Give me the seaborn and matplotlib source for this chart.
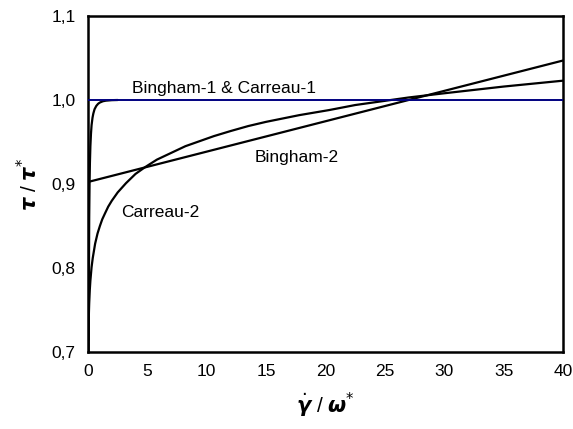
import matplotlib
matplotlib.use("Agg")
import matplotlib.pyplot as plt
import seaborn as sns
import pandas as pd
from matplotlib.ticker import FuncFormatter

# Normalised shear rate and stress for the four rheological fits
bingham1_x = [0.0, 40.0]
bingham1_y = [1.0, 1.0]

carreau1_x = [0.06, 0.08, 0.10, 0.13, 0.16, 0.20, 0.25, 0.30, 0.38, 0.45,
              0.55, 0.70, 0.85, 1.0, 1.25, 1.5, 2.0, 2.5]
carreau1_y = [0.70, 0.80, 0.86, 0.90, 0.925, 0.945, 0.960, 0.970, 0.979,
              0.984, 0.989, 0.993, 0.9955, 0.997, 0.9985, 0.9992, 0.9998, 1.0]

bingham2_x = [0.0, 40.0]
bingham2_y = [0.9024, 1.047]

carreau2_x = [0.03, 0.05, 0.08, 0.1, 0.15, 0.2, 0.3, 0.4, 0.6, 0.8, 1.0, 1.2,
              1.43, 1.7, 2.0, 2.5, 3.2, 4.0, 4.8, 5.8, 7.0, 8.2, 9.4, 10.6,
              12.0, 13.5, 15.0, 17.8, 20.3, 22.5, 25.0, 27.0, 30.0, 35.0, 40.0]
carreau2_y = [0.714, 0.732, 0.749, 0.758, 0.774, 0.785, 0.801, 0.812, 0.829,
              0.841, 0.850, 0.858, 0.865, 0.873, 0.880, 0.890, 0.901, 0.912,
              0.920, 0.929, 0.937, 0.945, 0.951, 0.957, 0.963, 0.969, 0.974,
              0.982, 0.988, 0.994, 0.999, 1.003, 1.008, 1.016, 1.023]

x_ticks = [0, 5, 10, 15, 20, 25, 30, 35, 40]
y_ticks = [0.7, 0.8, 0.9, 1.0, 1.1]

sns.set_style("white")
plt.rcParams["font.family"] = ["Liberation Sans", "DejaVu Sans"]
plt.rcParams["mathtext.fontset"] = "dejavusans"
plt.rcParams["text.color"] = "black"
plt.rcParams["axes.labelcolor"] = "black"

fig = plt.figure(figsize=(5.73, 4.29), dpi=100)
ax = fig.add_axes([0.1536, 0.1795, 0.8289, 0.7832])

series = [
    (carreau1_x, carreau1_y, "black", 1.6, 2),
    (bingham2_x, bingham2_y, "black", 1.6, 2),
    (carreau2_x, carreau2_y, "black", 1.6, 2),
    (bingham1_x, bingham1_y, "#000080", 1.4, 3),
]
for xs, ys, col, lw, z in series:
    df = pd.DataFrame({"x": xs, "y": ys})
    sns.lineplot(data=df, x="x", y="y", ax=ax, color=col, linewidth=lw,
                 sort=False, estimator=None, zorder=z)

ax.set_xlim(0, 40)
ax.set_ylim(0.7, 1.1)
ax.set_xticks(x_ticks)
ax.set_yticks(y_ticks)
ax.yaxis.set_major_formatter(FuncFormatter(lambda v, p: f"{v:.1f}".replace(".", ",")))
ax.xaxis.set_major_formatter(FuncFormatter(lambda v, p: f"{v:.0f}"))
ax.tick_params(axis="both", direction="inout", length=8, width=1.0,
               labelsize=12.5, colors="black", pad=5)

for sp in ax.spines.values():
    sp.set_visible(True)
    sp.set_color("black")
    sp.set_linewidth(1.8)

ax.set_xlabel(r"$\dot{\boldsymbol{\gamma}}$ / $\boldsymbol{\omega}^{*}$",
              fontsize=15, labelpad=8)
ax.set_ylabel(r"$\boldsymbol{\tau}$ / $\boldsymbol{\tau}^{*}$",
              fontsize=15, labelpad=7)

ax.text(3.7, 1.008, "Bingham-1 & Carreau-1", fontsize=12.5, ha="left", va="baseline")
ax.text(14.0, 0.931, "Bingham-2", fontsize=12.5, ha="left", va="center")
ax.text(2.8, 0.8655, "Carreau-2", fontsize=12.5, ha="left", va="center")

fig.savefig("out.png", dpi=100)
